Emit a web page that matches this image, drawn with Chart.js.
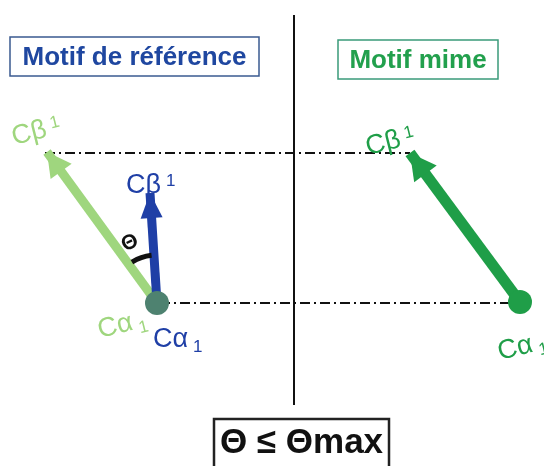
<!DOCTYPE html>
<html>
<head>
<meta charset="utf-8">
<script src="https://cdn.jsdelivr.net/npm/chart.js@4"></script>
<style>
  html, body { margin: 0; padding: 0; background: #fff; }
  canvas { display: block; }
</style>
</head>
<body>
<canvas id="diagram" width="544" height="466"></canvas>
<script>
// coordinates are in diagram units (x: 0..544, y: 0..466 downward)
const divider = [{x: 294, y: 15}, {x: 294, y: 405}];
const dashTop = [{x: 45, y: 153}, {x: 410, y: 153}];
const dashBottom = [{x: 160, y: 303}, {x: 520, y: 303}];

const refMimeArrow = [{x: 157, y: 303}, {x: 47, y: 152}];   // vert clair (mime superposé)
const refArrow = [{x: 157, y: 303}, {x: 150, y: 193}];      // bleu (référence)
const mimeArrow = [{x: 520, y: 302}, {x: 410, y: 153}];     // vert (mime)

const atoms = [{x: 157, y: 303}, {x: 520, y: 302}];
const atomColors = ['#4e8270', '#1f9e48'];

const boxTitles = ['Motif de référence', 'Motif mime', 'Θ ≤ Θmax'];
const boxes = [
    {x0: 10, y0: 37, x1: 259, y1: 76},
    {x0: 338, y0: 40, x1: 498, y1: 79},
    {x0: 214, y0: 419, x1: 389, y1: 470}
];

const atomLabels = [
    {text: 'Cβ', sub: '1', x: 14, y: 145, rot: -14, color: '#9fd67e'},
    {text: 'Cβ', sub: '1', x: 126, y: 193, rot: 0, color: '#1f3fa6'},
    {text: 'Cβ', sub: '1', x: 368, y: 155, rot: -14, color: '#1f9e48'},
    {text: 'Cα', sub: '1', x: 100, y: 338, rot: -14, color: '#9fd67e'},
    {text: 'Cα', sub: '1', x: 153, y: 347, rot: 0, color: '#1f3fa6'},
    {text: 'Cα', sub: '1', x: 500, y: 360, rot: -14, color: '#1f9e48'}
];

const LIGHT = '#9fd67e', BLUE = '#1f3fa6', GREEN = '#1f9e48';

const overlay = {
    id: 'overlay',
    afterDatasetsDraw(chart) {
        const ctx = chart.ctx;
        const xs = chart.scales.x, ys = chart.scales.y;
        const px = v => xs.getPixelForValue(v), py = v => ys.getPixelForValue(v);

        // arrow heads
        [[refMimeArrow, LIGHT, 13, 24], [refArrow, BLUE, 11, 25], [mimeArrow, GREEN, 14, 26]].forEach(([pts, col, half, len]) => {
            const a = pts[0], b = pts[1];
            const bx = px(b.x), by = py(b.y);
            const ang = Math.atan2(by - py(a.y), bx - px(a.x));
            ctx.save();
            ctx.translate(bx, by);
            ctx.rotate(ang);
            ctx.fillStyle = col;
            ctx.beginPath();
            ctx.moveTo(0, 0);
            ctx.lineTo(-len, -half);
            ctx.lineTo(-len, half);
            ctx.closePath();
            ctx.fill();
            ctx.restore();
        });

        // theta arc
        const cx = px(refArrow[0].x), cy = py(refArrow[0].y);
        const a1 = Math.atan2(py(refMimeArrow[1].y) - cy, px(refMimeArrow[1].x) - cx);
        const a2 = Math.atan2(py(refArrow[1].y) - cy, px(refArrow[1].x) - cx);
        ctx.save();
        ctx.strokeStyle = '#111';
        ctx.lineWidth = 5;
        ctx.beginPath();
        ctx.arc(cx, cy, 48, a1 + 0.08, a2 - 0.05);
        ctx.stroke();
        ctx.translate(cx - 27, cy - 60);
        ctx.rotate(-25 * Math.PI / 180);
        ctx.fillStyle = '#111';
        ctx.font = 'bold 21px "Liberation Sans", Arial, sans-serif';
        ctx.textAlign = 'center';
        ctx.textBaseline = 'middle';
        ctx.fillText('Θ', 0, 0);
        ctx.restore();

        // boxes
        const boxStyle = [['#3a5a90', '#1f47a0', 26], ['#3a9a7a', '#22a04d', 26], ['#222', '#111', 35]];
        boxes.forEach((b, i) => {
            const [stroke, fill, size] = boxStyle[i];
            ctx.save();
            ctx.strokeStyle = stroke;
            ctx.lineWidth = i === 2 ? 2.5 : 1.5;
            ctx.strokeRect(px(b.x0), py(b.y0), px(b.x1) - px(b.x0), py(b.y1) - py(b.y0));
            ctx.fillStyle = fill;
            ctx.font = 'bold ' + size + 'px "Liberation Sans", Arial, sans-serif';
            ctx.textAlign = 'center';
            ctx.textBaseline = 'middle';
            const ty = i === 2 ? py(b.y0) + 24 : (py(b.y0) + py(b.y1)) / 2 + 1;
            ctx.fillText(boxTitles[i], (px(b.x0) + px(b.x1)) / 2, ty);
            ctx.restore();
        });

        // atom labels
        atomLabels.forEach(l => {
            ctx.save();
            ctx.translate(px(l.x), py(l.y));
            ctx.rotate(l.rot * Math.PI / 180);
            ctx.fillStyle = l.color;
            ctx.textBaseline = 'alphabetic';
            ctx.font = '27px "Liberation Sans", Arial, sans-serif';
            ctx.fillText(l.text, 0, 0);
            const w = ctx.measureText(l.text).width;
            ctx.font = '17px "Liberation Sans", Arial, sans-serif';
            ctx.fillText(l.sub, w + 5, l.text === 'Cβ' ? -7 : 5);
            ctx.restore();
        });
    }
};

new Chart(document.getElementById('diagram').getContext('2d'), {
    type: 'scatter',
    data: {
        datasets: [
            {data: divider, showLine: true, borderColor: '#111', borderWidth: 2, pointRadius: 0, order: 6},
            {data: dashTop, showLine: true, borderColor: '#111', borderWidth: 2, borderDash: [10, 4, 2, 4], pointRadius: 0, order: 5},
            {data: dashBottom, showLine: true, borderColor: '#111', borderWidth: 2, borderDash: [10, 4, 2, 4], pointRadius: 0, order: 4},
            {data: refMimeArrow, showLine: true, borderColor: LIGHT, borderWidth: 9, pointRadius: 0, borderCapStyle: 'butt', order: 3},
            {data: refArrow, showLine: true, borderColor: BLUE, borderWidth: 9, pointRadius: 0, order: 2},
            {data: mimeArrow, showLine: true, borderColor: GREEN, borderWidth: 11, pointRadius: 0, order: 1},
            {data: atoms, showLine: false, pointRadius: 12, pointBackgroundColor: atomColors, pointBorderWidth: 0, order: 0}
        ]
    },
    options: {
        responsive: false,
        animation: false,
        layout: {padding: 0, autoPadding: false},
        plugins: {legend: {display: false}, tooltip: {enabled: false}},
        scales: {
            x: {type: 'linear', min: 0, max: 544, display: false},
            y: {type: 'linear', min: 0, max: 466, reverse: true, display: false}
        },
        elements: {line: {tension: 0}}
    },
    plugins: [overlay]
});
</script>
</body>
</html>
